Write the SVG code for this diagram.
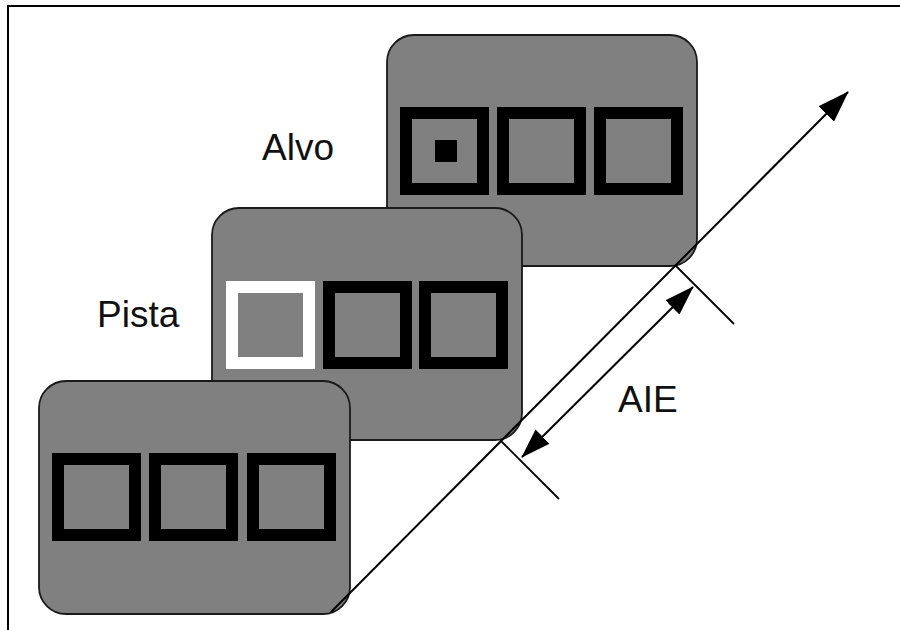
<svg xmlns="http://www.w3.org/2000/svg" width="900" height="630" viewBox="0 0 900 630">
<style>
.panel{fill:#808080;stroke:#1a1a1a;stroke-width:1.8}
.sq{fill:none;stroke:#000;stroke-width:12}
.cue{fill:none;stroke:#fff;stroke-width:12}
.lbl{font-family:"Liberation Sans",Arial,sans-serif;font-size:37px;fill:#111}
.ax{stroke:#000;stroke-width:2;fill:none}
.tick{stroke:#000;stroke-width:1.8;fill:none}
</style>
<defs>
<marker id="bigArrow" viewBox="0 0 32 22" refX="31" refY="11" markerWidth="32" markerHeight="22" markerUnits="userSpaceOnUse" orient="auto">
<path d="M0,0 L32,11 L0,22 z" fill="#000"/>
</marker>
<marker id="dimArrow" viewBox="0 0 30 20" refX="29" refY="10" markerWidth="30" markerHeight="20" markerUnits="userSpaceOnUse" orient="auto-start-reverse">
<path d="M0,0 L30,10 L0,20 z" fill="#000"/>
</marker>
</defs>
<rect width="900" height="630" fill="#fff"/>
<path d="M8,630 L8,6 L900,6" fill="none" stroke="#000" stroke-width="2"/>

<g id="alvo-frame" transform="translate(387,35)">
<rect class="panel" x="0" y="0" width="310" height="231" rx="27" ry="27"/>
<rect class="sq" x="19" y="78" width="77" height="76"/>
<rect x="48" y="105" width="22" height="22" fill="#000"/>
<rect class="sq" x="116" y="78" width="77" height="76"/>
<rect class="sq" x="213" y="78" width="77" height="76"/>
</g>

<g id="pista-frame" transform="translate(212,208)">
<rect class="panel" x="0" y="0" width="310" height="232" rx="27" ry="27"/>
<rect class="cue" x="20" y="79" width="77" height="76"/>
<rect class="sq" x="117" y="79" width="77" height="76"/>
<rect class="sq" x="213" y="79" width="77" height="76"/>
</g>

<g id="fixation-frame" transform="translate(39,381)">
<rect class="panel" x="0" y="0" width="311" height="233" rx="27" ry="27"/>
<rect class="sq" x="19" y="78" width="77" height="76"/>
<rect class="sq" x="116" y="78" width="77" height="76"/>
<rect class="sq" x="214" y="78" width="77" height="76"/>
</g>

<g id="labels">
<text class="lbl" x="262" y="160">Alvo</text>
<text class="lbl" x="97" y="327">Pista</text>
<text class="lbl" x="618" y="412">AIE</text>
</g>

<g id="connectors">
<line class="ax" x1="331" y1="612" x2="848" y2="92" marker-end="url(#bigArrow)"/>
<line class="tick" x1="675" y1="265" x2="734" y2="324"/>
<line class="tick" x1="500" y1="440" x2="559" y2="499"/>
<line class="ax" x1="522" y1="457" x2="693" y2="287" marker-start="url(#dimArrow)" marker-end="url(#dimArrow)"/>
</g>
</svg>
